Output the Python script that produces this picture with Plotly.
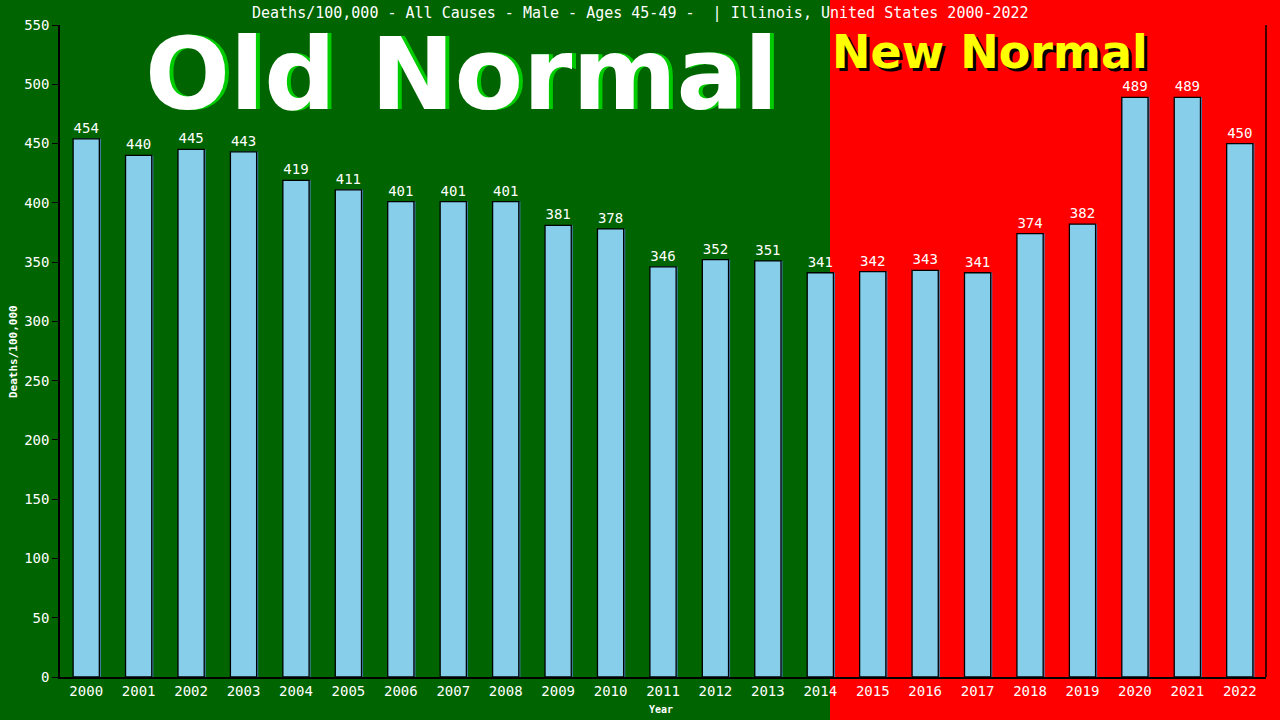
import plotly.graph_objects as go

years = [str(y) for y in range(2000, 2023)]
deaths = [454, 440, 445, 443, 419, 411, 401, 401, 401, 381, 378, 346, 352, 351,
          341, 342, 343, 341, 374, 382, 489, 489, 450]
y_ticks = list(range(0, 551, 50))

title_text = "Deaths/100,000 - All Causes - Male - Ages 45-49 -  | Illinois, United States 2000-2022"

W, H = 1280, 720
ML, MR, MT, MB = 60, 14, 25, 43
PW, PH = W - ML - MR, H - MT - MB

def px_x(p):
    return (p - ML) / PW

def px_y(p):
    return (H - MB - p) / PH

GREEN = "#006400"
RED = "#FF0000"
MONO = "DejaVu Sans Mono"
BIG = "DejaVu Sans"

fig = go.Figure()
# thin steel-blue edge to the right of each bar
fig.add_trace(go.Bar(
    x=years, y=deaths,
    marker=dict(color="#4682B4", line=dict(width=0)),
    width=0.5, offset=-0.25 + 0.03,
    hoverinfo="skip",
))
fig.add_trace(go.Bar(
    x=years, y=deaths,
    marker=dict(color="#87CEEB", line=dict(color="#000000", width=1.3)),
    width=0.5, offset=-0.25,
    text=[str(v) for v in deaths],
    textposition="outside",
    textfont=dict(family=MONO, size=14, color="white"),
    cliponaxis=False,
))

shapes = [
    dict(type="rect", xref="paper", yref="paper",
         x0=px_x(830), x1=px_x(1285), y0=px_y(725), y1=px_y(-5),
         fillcolor=RED, line=dict(width=0), layer="below"),
    dict(type="line", xref="paper", yref="paper",
         x0=1, x1=1, y0=0, y1=1, line=dict(color="black", width=1.5)),
]

annotations = [
    dict(text=title_text, x=px_x(640), y=px_y(13), xref="paper", yref="paper",
         xanchor="center", yanchor="middle", showarrow=False,
         font=dict(family=MONO, size=15, color="white")),
    # Old Normal shadow + text
    dict(text="<b>Old Normal</b>", x=px_x(465), y=px_y(74), xref="paper", yref="paper",
         xanchor="center", yanchor="middle", showarrow=False,
         font=dict(family=BIG, size=100, color="#00CC00")),
    dict(text="<b>Old Normal</b>", x=px_x(461), y=px_y(74), xref="paper", yref="paper",
         xanchor="center", yanchor="middle", showarrow=False,
         font=dict(family=BIG, size=100, color="white")),
    # New Normal shadow + text
    dict(text="<b>New Normal</b>", x=px_x(993), y=px_y(55), xref="paper", yref="paper",
         xanchor="center", yanchor="middle", showarrow=False,
         font=dict(family=BIG, size=46, color="black")),
    dict(text="<b>New Normal</b>", x=px_x(990), y=px_y(52), xref="paper", yref="paper",
         xanchor="center", yanchor="middle", showarrow=False,
         font=dict(family=BIG, size=46, color="#FFFF00")),
    dict(text="<b>Deaths/100,000</b>", x=px_x(13), y=0.5, xref="paper", yref="paper",
         xanchor="center", yanchor="middle", showarrow=False, textangle=-90,
         font=dict(family=MONO, size=11, color="white")),
    dict(text="<b>Year</b>", x=px_x(661), y=px_y(709), xref="paper", yref="paper",
         xanchor="center", yanchor="middle", showarrow=False,
         font=dict(family=MONO, size=10, color="white")),
]

fig.update_layout(
    width=W, height=H,
    margin=dict(l=ML, r=MR, t=MT, b=MB, pad=0),
    paper_bgcolor=GREEN,
    plot_bgcolor="rgba(0,0,0,0)",
    showlegend=False,
    barmode="overlay",
    shapes=shapes,
    annotations=annotations,
    xaxis=dict(type="category", showgrid=False, showline=True, linecolor="black",
               linewidth=1.5, ticks="", tickfont=dict(family=MONO, size=14, color="white"),
               fixedrange=True),
    yaxis=dict(range=[0, 550], tickvals=y_ticks, showgrid=False, zeroline=False,
               showline=True, linecolor="black", linewidth=1.5, ticks="outside",
               ticklen=6, tickcolor="black",
               tickfont=dict(family=MONO, size=14, color="white"), fixedrange=True),
)

fig.write_html(
    "out.html",
    config={"displayModeBar": False},
    post_script="document.body.style.margin='0px';document.body.style.padding='0px';document.body.style.overflow='hidden';",
)
